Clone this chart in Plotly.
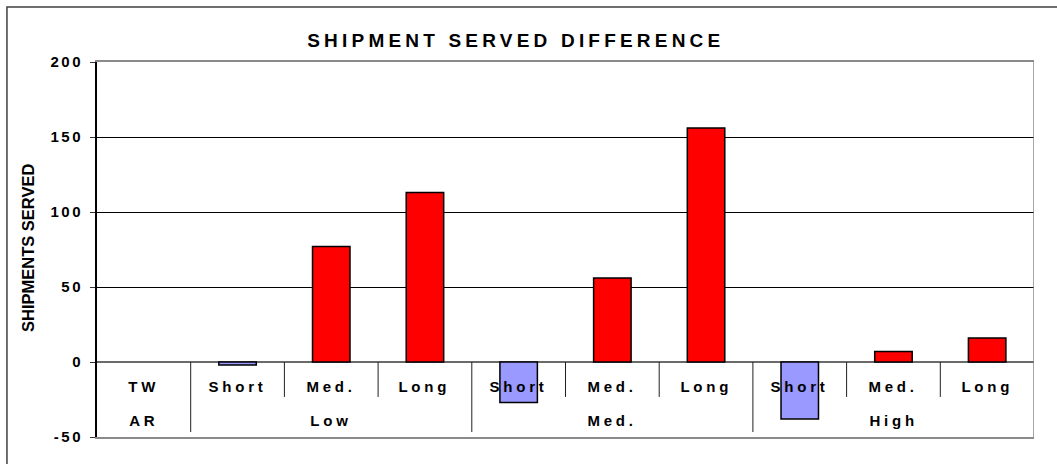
import plotly.graph_objects as go

# ---- data ----
sub_labels = ["TW", "Short", "Med.", "Long", "Short", "Med.", "Long", "Short", "Med.", "Long"]
group_labels = ["AR", "Low", "Med.", "High"]
group_members = [[0], [1, 2, 3], [4, 5, 6], [7, 8, 9]]
values = [0, -2, 77, 113, -27, 56, 156, -38, 7, 16]
y_ticks = [-50, 0, 50, 100, 150, 200]

FONT = "Liberation Sans, Arial, sans-serif"
POS = "#FF0000"
NEG = "#9999FF"

x = list(range(len(values)))
colors = [POS if v >= 0 else NEG for v in values]
line_widths = [0 if v == 0 else 1.5 for v in values]

fig = go.Figure()
fig.add_trace(go.Bar(
    x=x, y=values, width=0.4,
    marker=dict(color=colors, line=dict(color="#000000", width=line_widths)),
    showlegend=False, hoverinfo="skip",
))

annotations = []
# sub-category labels (row 1)
for i, lab in enumerate(sub_labels):
    annotations.append(dict(x=i, y=-16.3, xref="x", yref="y", text=lab, showarrow=False,
                            font=dict(family=FONT, size=15, color="#000000", weight="bold"),
                            xanchor="center", yanchor="middle"))
# group labels (row 2)
for lab, mem in zip(group_labels, group_members):
    cx = sum(mem) / len(mem)
    annotations.append(dict(x=cx, y=-39, xref="x", yref="y", text=lab, showarrow=False,
                            font=dict(family=FONT, size=15, color="#000000", weight="bold"),
                            xanchor="center", yanchor="middle"))
# y axis title
annotations.append(dict(x=-0.0736, y=0.504, xref="paper", yref="paper", text="SHIPMENTS SERVED",
                        showarrow=False, textangle=-90,
                        font=dict(family=FONT, size=16.5, color="#000000", weight="bold"),
                        xanchor="center", yanchor="middle"))

shapes = []
# separators within groups (short) and between groups (long)
group_starts = [mem[0] for mem in group_members][1:]
for i in range(len(values) - 1):
    b = i + 0.5
    is_group = (i + 1) in group_starts
    shapes.append(dict(type="line", xref="x", yref="y", x0=b, x1=b, y0=0,
                       y1=-46.7 if is_group else -23.3,
                       line=dict(color="#202020", width=1)))
# right border of plot area
shapes.append(dict(type="line", xref="x", yref="y", x0=len(values) - 0.5, x1=len(values) - 0.5,
                   y0=-50, y1=200, line=dict(color="#8a8a8a", width=1.5)))
# outer chart frame
shapes.append(dict(type="rect", xref="paper", yref="paper", x0=-0.0961, x1=1.04, y0=-0.1, y1=1.1467,
                   line=dict(color="#404040", width=1.5), fillcolor="rgba(0,0,0,0)"))

fig.update_layout(
    width=1057, height=464,
    margin=dict(l=97, r=23, t=62, b=27),
    paper_bgcolor="#FFFFFF", plot_bgcolor="#FFFFFF",
    title=dict(text="SHIPMENT SERVED DIFFERENCE", x=0.488, xanchor="center", y=0.914, yanchor="middle",
               xref="container", yref="container",
               font=dict(family=FONT, size=19, color="#000000", weight="bold")),
    xaxis=dict(range=[-0.5, len(values) - 0.5], showticklabels=False, showgrid=False, zeroline=False,
               showline=True, linecolor="#8a8a8a", linewidth=1.5, mirror=True, ticks="", fixedrange=True),
    yaxis=dict(range=[-50, 200], tickvals=y_ticks, ticktext=[str(t) for t in y_ticks],
               showgrid=True, gridcolor="#000000", gridwidth=1,
               zeroline=True, zerolinecolor="#6a6a6a", zerolinewidth=1.5,
               showline=True, linecolor="#000000", linewidth=2,
               ticks="outside", ticklen=5, tickcolor="#333333", tickwidth=1,
               ticklabelstandoff=4,
               tickfont=dict(family=FONT, size=15, color="#000000", weight="bold"), fixedrange=True),
    annotations=annotations, shapes=shapes, bargap=0.6,
)

post = """
document.body.style.margin = '0';
document.body.style.padding = '0';
document.body.style.overflow = 'hidden';
var gd = document.getElementById('{plot_id}');
function applySpacing(){
  gd.querySelectorAll('.annotation-text-g text').forEach(function(t){
    if (t.textContent.indexOf('SHIPMENTS') === -1) { t.style.letterSpacing = '3.8px'; }
  });
  gd.querySelectorAll('.ytick text').forEach(function(t){ t.style.letterSpacing = '2.5px'; });
  gd.querySelectorAll('.gtitle').forEach(function(t){ t.style.letterSpacing = '4.2px'; });
}
applySpacing();
gd.on('plotly_afterplot', applySpacing);
"""

fig.write_html("out.html", post_script=post, config={"displayModeBar": False})
